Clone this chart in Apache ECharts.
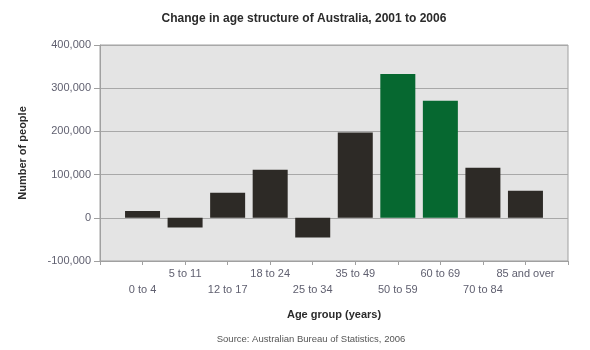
<!DOCTYPE html>
<html>
<head>
<meta charset="utf-8">
<script src="https://cdn.jsdelivr.net/npm/echarts@6/dist/echarts.min.js"></script>
<style>
  html, body { margin: 0; padding: 0; background: #ffffff; }
  #chart { width: 590px; height: 350px; }
</style>
</head>
<body>
<div id="chart"></div>
<script>
// Age groups and change in persons, 2001 to 2006
const categories = ['0 to 4', '5 to 11', '12 to 17', '18 to 24', '25 to 34',
  '35 to 49', '50 to 59', '60 to 69', '70 to 84', '85 and over'];
const changeInPeople = [16000, -22500, 58000, 111000, -45500,
  197500, 333000, 271000, 116000, 62500];
// Groups drawn in green
const highlighted = ['50 to 59', '60 to 69'];
const yTicks = { min: -100000, max: 400000, step: 100000 };

const DARK = '#2d2a26';
const GREEN = '#066830';
const LABEL = '#606070';
const FONT = 'Liberation Sans, Arial, sans-serif';

// Empty slots at both ends so bars sit on the interior ticks
const axisCats = [''].concat(categories, ['']);
const barData = ['-'].concat(changeInPeople.map((v, i) => ({
  value: v,
  itemStyle: { color: highlighted.includes(categories[i]) ? GREEN : DARK }
})), ['-']);

const chart = echarts.init(document.getElementById('chart'), null, { renderer: 'canvas' });
chart.setOption({
  animation: false,
  textStyle: { fontFamily: FONT },
  grid: {
    left: 100, right: 22, top: 45, bottom: 89,
    show: true, backgroundColor: '#e4e4e4', borderColor: '#a0a0a0', borderWidth: 1
  },
  graphic: [
    { type: 'text', x: 304, y: 19,
      style: { text: 'Change in age structure of Australia, 2001 to 2006',
        font: 'bold 12px ' + FONT, fill: '#2b2b2b', align: 'center', verticalAlign: 'middle' } },
    { type: 'text', x: 311, y: 339,
      style: { text: 'Source: Australian Bureau of Statistics, 2006',
        font: '9.5px ' + FONT, fill: '#555555', align: 'center', verticalAlign: 'middle' } }
  ],
  xAxis: {
    type: 'category',
    data: axisCats,
    boundaryGap: false,
    name: 'Age group (years)',
    nameLocation: 'middle',
    nameGap: 48,
    nameTextStyle: { fontWeight: 'bold', fontSize: 11, color: '#2b2b2b', fontFamily: FONT },
    axisLine: { onZero: false, lineStyle: { color: '#a0a0a0' } },
    axisTick: { show: true, interval: 0, length: 4, lineStyle: { color: '#a0a0a0' } },
    axisLabel: {
      interval: 0, margin: 5, fontSize: 11, color: LABEL, lineHeight: 16,
      formatter: (v, i) => (i % 2 === 1 ? '\n' + v : v)
    },
    splitLine: { show: false }
  },
  yAxis: {
    type: 'value',
    min: yTicks.min, max: yTicks.max, interval: yTicks.step,
    name: 'Number of people',
    nameLocation: 'middle',
    nameRotate: 90,
    nameGap: 72,
    nameTextStyle: { fontWeight: 'bold', fontSize: 11, color: '#2b2b2b', fontFamily: FONT },
    axisLine: { show: true, lineStyle: { color: '#a0a0a0' } },
    axisTick: { show: true, length: 6, lineStyle: { color: '#a0a0a0' } },
    axisLabel: {
      margin: 9, fontSize: 11, color: LABEL,
      formatter: v => v.toLocaleString('en-US')
    },
    splitLine: { show: true, lineStyle: { color: '#a8a8a8' } }
  },
  series: [{
    type: 'bar',
    data: barData,
    barWidth: 35,
    itemStyle: { color: DARK }
  }]
});
</script>
</body>
</html>
